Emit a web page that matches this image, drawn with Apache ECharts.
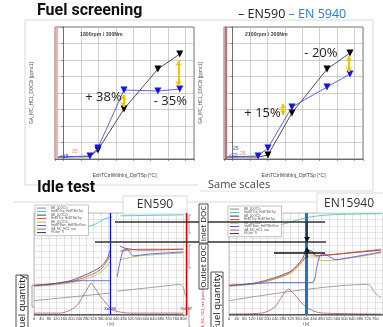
<!DOCTYPE html>
<html><head><meta charset="utf-8">
<script src="https://cdn.jsdelivr.net/npm/echarts@6/dist/echarts.min.js"></script>
<style>html,body{margin:0;padding:0;background:#fff}#c{width:383px;height:327px}</style>
</head><body><div id="c"></div>
<script>
// ---------- Fuel screening (top) ----------
const fsX1800 = [-0.33, 1.51, 1.97, 3.47, 5.42, 6.68];
const fsEN590_1800 = [0.12, 0.14, 0.55, 3.03, 5.45, 6.36];
const fsEN15940_1800 = [0.12, 0.18, 0.67, 4.18, 4.12, 4.24];
const fsX2100 = [-0.33, 1.46, 2.03, 3.41, 5.43, 6.75];
const fsEN590_2100 = [0.12, 0.12, 0.24, 2.79, 5.45, 6.42];
const fsEN15940_2100 = [0.12, 0.18, 0.67, 3.15, 4.36, 5.15];
const fsMark590 = [false, false, true, true, true, true];
const fsMark15940 = [false, true, true, true, true, true];
const fsArrows1800 = [[3.43, 3.15, 3.88], [6.60, 4.42, 5.94]];
const fsArrows2100 = [[2.90, 2.67, 3.33], [6.69, 5.27, 6.24]];
const fsLabels1800 = [['+ 38%', 2.29, 3.76], ['- 35%', 6.14, 3.52]];
const fsLabels2100 = [['+ 15%', 1.72, 2.79], ['- 20%', 5.08, 6.42]];

// ---------- Idle test (bottom) ----------
const idleNames = ['BB_LDOC1r', 'ImpBTTcp_HeBTBetTcp', 'BB_LDOC2r', 'HeBTTcp_HeBTBetTcp', 'BB_LDOC3r', 'ImpBTBam_HeBTBetTam', 'GA_MC_HC1_raw', 'FLGen_ft'];
const idleColors = ['#8a8a8a', '#3cbcbc', '#444444', '#e83a3a', '#b3b348', '#4646e6', '#b05a5a', '#333333'];

// EN590
const e590_grayT = [0, 408, 430, 446, 730, 784, 800, 811];
const e590_grayV = [11.2, 17.2, null, 18.7, 23.2, 23.9, 21.7, 15.0];
const e590_tealT = [0, 193, 311, 381, 419, 430, 462, 800];
const e590_tealV = [65.8, 67.3, 70.3, 75.5, 77.0, null, 77.8, 78.5];
const e590_blackT = [0, 177, 263, 354, 392, 408, 430, 462, 489, 569, 800];
const e590_blackV = [23.2, 26.2, 30.7, 37.4, 44.1, 50.9, null, 53.9, 52.4, 50.9, 51.6];
const e590_redT = [0, 177, 263, 354, 392, 408, 430, 462, 569, 800];
const e590_redV = [23.2, 25.4, 29.2, 35.2, 42.6, 47.1, null, 50.1, 51.6, 51.6];
const e590_oliveT = [0, 177, 263, 354, 408, 430, 462, 569, 800];
const e590_oliveV = [22.4, 24.7, 27.7, 32.9, 41.9, null, 43.4, 46.4, 48.6];
const e590_blueT = [0, 86, 177, 263, 408, 430, 446, 478, 499, 532, 623, 800];
const e590_blueV = [23.2, 23.9, 26.2, 26.9, 26.9, null, 29.9, 50.9, 51.6, 46.4, 47.9, 49.4];
const e590_hcT = [0, 140, 193, 231, 263, 290, 306, 328, 354, 392, 424, 516, 800];
const e590_hcV = [1.5, 1.5, 3.7, 7.5, 15.0, 21.7, 24.7, 20.9, 15.0, 8.2, 3.7, 1.5, 1.5];
const e590_fuelT = [0, 800];
const e590_fuelV = [0.4, 0.4];

// EN15940
const e159_grayT = [0, 708, 733, 754, 790];
const e159_grayV = [11.2, 23.9, 23.2, 18.0, 13.5];
const e159_tealT = [0, 277, 400, 518, 790];
const e159_tealV = [63.6, 71.1, 76.3, 78.5, 79.5];
const e159_blackT = [0, 144, 313, 379, 405, 431, 456, 518, 790];
const e159_blackV = [23.2, 25.4, 33.7, 43.4, 50.9, 50.1, 46.4, 47.1, 50.9];
const e159_redT = [0, 144, 236, 313, 379, 400, 426, 451, 518, 790];
const e159_redV = [23.2, 24.7, 28.4, 32.9, 41.9, 46.4, 49.4, 46.4, 47.1, 51.6];
const e159_oliveT = [0, 144, 313, 379, 400, 441, 482, 569, 790];
const e159_oliveV = [22.4, 24.7, 32.2, 41.1, 45.6, 46.4, 42.6, 43.4, 48.6];
const e159_blueT = [0, 144, 236, 431, 456, 472, 492, 554, 621, 790];
const e159_blueV = [23.2, 24.7, 25.4, 25.4, 37.4, 46.4, 47.9, 43.4, 44.9, 49.4];
const e159_hcT = [0, 169, 236, 277, 308, 338, 390, 441, 492, 790];
const e159_hcV = [0.7, 1.5, 6.0, 15.0, 20.2, 16.5, 7.5, 3.0, 1.5, 0.7];
const e159_fuelT = [0, 800];
const e159_fuelV = [0.4, 0.4];

const zip = (t, v) => t.map((x, i) => [x, v[i] === null ? '-' : v[i]]);
const tri = (xs, ys, marks) => xs.map((x, i) => ({ value: [x, ys[i]], symbol: marks[i] ? 'triangle' : 'none' }));

function fsSeries(gi, xs, y590, y159, arrows, labels, redColor) {
  return [
    { type: 'line', xAxisIndex: gi, yAxisIndex: gi, data: tri(xs, y590, fsMark590), symbol: 'triangle', symbolRotate: 180, symbolSize: 7,
      itemStyle: { color: '#000' }, lineStyle: { color: '#222', width: 0.8 }, z: 3, animation: false },
    { type: 'line', xAxisIndex: gi, yAxisIndex: gi, data: tri(xs, y159, fsMark15940), symbol: 'triangle', symbolRotate: 180, symbolSize: 7,
      itemStyle: { color: '#1414e6' }, lineStyle: { color: '#5050f0', width: 0.9 }, z: 4, animation: false,
      markLine: { silent: true, animation: false, symbol: ['arrow', 'arrow'], symbolSize: [5, 5], label: { show: false },
        lineStyle: { color: '#f5c400', width: 2, type: 'solid' },
        data: arrows.map(a => [{ coord: [a[0], a[1]] }, { coord: [a[0], a[2]] }]) },
      markPoint: { silent: true, animation: false, symbol: 'circle', symbolSize: 0,
        label: { show: true, formatter: '{b}', fontSize: 13, color: '#222', fontFamily: 'Open Sans', position: 'inside' },
        data: labels.map(l => ({ name: l[0], coord: [l[1], l[2]] })) } },
    { type: 'line', xAxisIndex: gi, yAxisIndex: gi, data: [], z: 2,
      markLine: { silent: true, animation: false, symbol: 'none', label: { show: false }, lineStyle: { color: redColor, width: 1.6, type: 'solid' }, data: [{ xAxis: -0.38 }] } }
  ];
}

function idleSeries(gi, sets, extra) {
  return sets.map((s, i) => {
    const o = { type: 'line', name: idleNames[i], xAxisIndex: gi, yAxisIndex: gi, data: zip(s[0], s[1]), symbol: 'none', smooth: 0.3,
      lineStyle: { color: idleColors[i], width: 0.8 }, itemStyle: { color: idleColors[i] }, animation: false, connectNulls: false };
    if (extra[i]) o.markLine = extra[i];
    return o;
  });
}

const fsXAxis = gi => ({ gridIndex: gi, type: 'value', min: -0.5, max: 7.5, splitNumber: 8,
  axisLabel: { show: false }, axisTick: { show: true, length: 2, lineStyle: { color: '#555', width: 0.6 } },
  axisLine: { lineStyle: { color: '#555', width: 0.8 } }, splitLine: { show: true, lineStyle: { color: '#b0b0b0', width: 0.6 } },
  name: 'ExhTCtrlWithInj_DpfTSp [°C]', nameLocation: 'middle', nameGap: 14, nameTextStyle: { fontSize: 5, color: '#444', fontFamily: 'Liberation Sans' } });
const fsYAxis = gi => ({ gridIndex: gi, type: 'value', min: 0, max: 8, interval: 1,
  axisLabel: { show: false }, axisTick: { show: true, length: 2, lineStyle: { color: '#555', width: 0.6 } },
  axisLine: { lineStyle: { color: '#555', width: 0.8 } }, splitLine: { show: true, lineStyle: { color: '#b0b0b0', width: 0.6 } },
  name: 'GA_MC_HC1_DOC2r [ppmc1]', nameLocation: 'middle', nameGap: 21, nameTextStyle: { fontSize: 4.5, color: '#555', fontFamily: 'Liberation Sans' } });
const idleXAxis = (gi, max) => ({ gridIndex: gi, type: 'value', min: 0, max: max, interval: 40,
  axisLabel: { fontSize: 4, color: '#333', margin: 2, showMaxLabel: false, fontFamily: 'Liberation Sans' },
  axisTick: { show: true, length: 1.5, lineStyle: { color: '#666', width: 0.5 } },
  axisLine: { lineStyle: { color: '#777', width: 0.6 } }, splitLine: { show: true, lineStyle: { color: '#c4c4c4', width: 0.5 } },
  name: 't [s]', nameLocation: 'middle', nameGap: 7, nameTextStyle: { fontSize: 4, color: '#333' } });
const idleYAxis = gi => ({ gridIndex: gi, type: 'value', min: 0, max: 80, interval: 5,
  axisLabel: { show: false }, axisTick: { show: false }, axisLine: { show: false },
  splitLine: { show: true, lineStyle: { color: '#cfcfcf', width: 0.5 } } });

const legendCommon = { orient: 'vertical', data: idleNames, icon: 'rect', itemWidth: 9, itemHeight: 1, itemGap: 0.3,
  textStyle: { fontSize: 3, lineHeight: 3.2, color: '#555', fontFamily: 'Liberation Sans' }, padding: [1.5, 3, 1.5, 2],
  backgroundColor: '#fff', borderColor: '#888', borderWidth: 0.5, selectedMode: false, z: 20 };

const series = [].concat(
  fsSeries(0, fsX1800, fsEN590_1800, fsEN15940_1800, fsArrows1800, fsLabels1800, '#f39a9a'),
  fsSeries(1, fsX2100, fsEN590_2100, fsEN15940_2100, fsArrows2100, fsLabels2100, '#e03a3a'),
  idleSeries(2, [[e590_grayT, e590_grayV], [e590_tealT, e590_tealV], [e590_blackT, e590_blackV], [e590_redT, e590_redV],
    [e590_oliveT, e590_oliveV], [e590_blueT, e590_blueV], [e590_hcT, e590_hcV], [e590_fuelT, e590_fuelV]],
    { 5: { silent: true, animation: false, symbol: 'none', lineStyle: { color: '#0000ff', width: 1.2, type: 'solid' },
          label: { show: true, position: 'start', formatter: 'Xa830', fontSize: 4, color: '#0000ff', distance: [ -10, -8 ] }, data: [{ xAxis: 408 }] },
      3: { silent: true, animation: false, symbol: 'none', lineStyle: { color: '#e00000', width: 1.4, type: 'solid' },
          label: { show: true, position: 'start', formatter: 'Xa817', fontSize: 4, color: '#e00000', distance: [ -10, -8 ] }, data: [{ xAxis: 816 }] } }),
  idleSeries(3, [[e159_grayT, e159_grayV], [e159_tealT, e159_tealV], [e159_blackT, e159_blackV], [e159_redT, e159_redV],
    [e159_oliveT, e159_oliveV], [e159_blueT, e159_blueV], [e159_hcT, e159_hcV], [e159_fuelT, e159_fuelV]],
    { 5: { silent: true, animation: false, symbol: 'none', lineStyle: { color: '#1f74c4', width: 3, type: 'solid' },
          label: { show: false }, data: [{ xAxis: 400 }] } })
);

const G = [];
// panel frames
G.push({ type: 'polyline', shape: { points: [[25, 185], [25, 20], [373, 20], [373, 191], [200, 191]] }, style: { stroke: '#cfcfcf', fill: null, lineWidth: 0.8 }, z: 0 });
G.push({ type: 'line', shape: { x1: 25, y1: 185, x2: 198, y2: 185 }, style: { stroke: '#cfcfcf', lineWidth: 0.8 }, z: 0 });
G.push({ type: 'line', shape: { x1: 13, y1: 202, x2: 317, y2: 202 }, style: { stroke: '#cfcfcf', lineWidth: 0.8 }, z: 0 });
// titles
G.push({ type: 'text', x: 37, y: 11, style: { text: 'Fuel screening', fontSize: 16, fontWeight: 'bold', fontFamily: 'Roboto', fill: '#111', verticalAlign: 'middle' }, z: 50 });
G.push({ type: 'text', x: 238, y: 14, style: { text: '{a|– EN590} {b|– EN 5940}', fontSize: 12.5, fontFamily: 'Open Sans', verticalAlign: 'middle',
  rich: { a: { fill: '#222', fontSize: 12.5, fontFamily: 'Open Sans' }, b: { fill: '#2a7dd1', fontSize: 12.5, fontFamily: 'Open Sans' } } }, z: 50 });
G.push({ type: 'text', x: 80, y: 35, style: { text: '1800rpm / 300Nm', fontSize: 5.2, fontWeight: 'bold', fontFamily: 'Liberation Sans', fill: '#444', verticalAlign: 'middle' }, z: 50 });
G.push({ type: 'text', x: 245, y: 35, style: { text: '2100rpm / 300Nm', fontSize: 5.2, fontWeight: 'bold', fontFamily: 'Liberation Sans', fill: '#444', verticalAlign: 'middle' }, z: 50 });
// tiny start labels
G.push({ type: 'text', x: 60, y: 157, style: { text: '<15', fontSize: 5, fill: '#3030e0', verticalAlign: 'middle', fontFamily: 'Liberation Sans' }, z: 50 });
G.push({ type: 'text', x: 72, y: 152, style: { text: '25', fontSize: 5, fill: '#f08080', verticalAlign: 'middle', fontFamily: 'Liberation Sans' }, z: 50 });
G.push({ type: 'text', x: 233, y: 149, style: { text: '25', fontSize: 5, fill: '#555', verticalAlign: 'middle', fontFamily: 'Liberation Sans' }, z: 50 });
G.push({ type: 'text', x: 229, y: 156, style: { text: '<22', fontSize: 5, fill: '#3030e0', verticalAlign: 'middle', fontFamily: 'Liberation Sans' }, z: 50 });
G.push({ type: 'text', x: 240, y: 154, style: { text: '25', fontSize: 5, fill: '#f08080', verticalAlign: 'middle', fontFamily: 'Liberation Sans' }, z: 50 });
G.push({ type: 'text', x: 208, y: 185, style: { text: 'Same scales', fontSize: 11, fontFamily: 'Open Sans', fill: '#444', verticalAlign: 'middle', backgroundColor: '#fff' }, z: 50 });
G.push({ type: 'text', x: 37, y: 188, style: { text: 'Idle test', fontSize: 16, fontWeight: 'bold', fontFamily: 'Roboto', fill: '#111', verticalAlign: 'middle' }, z: 50 });
// tabs
G.push({ type: 'rect', shape: { x: 123, y: 196, width: 64, height: 18 }, style: { fill: '#fff', stroke: '#cfcfcf', lineWidth: 0.8 }, z: 1 });
G.push({ type: 'text', x: 155, y: 205, style: { text: 'EN590', fontSize: 12, fontFamily: 'Open Sans', fill: '#333', align: 'center', verticalAlign: 'middle' }, z: 2 });
G.push({ type: 'rect', shape: { x: 317, y: 193, width: 70, height: 20 }, style: { fill: '#fff', stroke: '#cfcfcf', lineWidth: 0.8 }, z: 1 });
G.push({ type: 'text', x: 349, y: 204, style: { text: 'EN15940', fontSize: 12, fontFamily: 'Open Sans', fill: '#333', align: 'center', verticalAlign: 'middle' }, z: 2 });
// rotated boxed labels
function vbox(x, y, w, h, txt, fs) {
  G.push({ type: 'rect', shape: { x: x, y: y, width: w, height: h }, style: { fill: '#fff', stroke: '#222', lineWidth: 0.8 }, z: 60 });
  G.push({ type: 'text', x: x + w / 2, y: y + h / 2, rotation: Math.PI / 2, style: { text: txt, fontSize: fs, fontFamily: 'Open Sans', fill: '#111', align: 'center', verticalAlign: 'middle' }, z: 61 });
}
vbox(199, 204, 9, 39, 'Inlet DOC', 8);
vbox(199, 244, 9, 45, 'Outlet DOC', 8);
vbox(211, 272, 12, 60, 'Fuel quantity', 9.5);
vbox(16, 275, 12, 57, 'Fuel quantity', 9.5);
G.push({ type: 'text', x: 203, y: 309, rotation: Math.PI / 2, style: { text: 'GA_MC_HC1_raw [ppmc1]', fontSize: 3.5, fill: '#d03030', align: 'center', verticalAlign: 'middle' }, z: 50 });
// secondary axis brackets of the EN590 plot
[[215, 233], [245, 268], [308, 327]].forEach(r => {
  G.push({ type: 'polyline', shape: { points: [[191, r[0]], [189, r[0]], [189, r[1]], [191, r[1]]] }, style: { stroke: '#666', fill: null, lineWidth: 0.6 }, z: 5 });
});
G.push({ type: 'polyline', shape: { points: [[34, 285], [32, 285], [32, 307], [34, 307]] }, style: { stroke: '#666', fill: null, lineWidth: 0.6 }, z: 5 });
// comparison annotation lines
G.push({ type: 'line', shape: { x1: 115, y1: 222, x2: 325, y2: 222 }, style: { stroke: '#333', lineWidth: 1.3 }, z: 40 });
G.push({ type: 'line', shape: { x1: 95, y1: 242, x2: 326, y2: 242 }, style: { stroke: '#333', lineWidth: 1.3 }, z: 40 });
G.push({ type: 'line', shape: { x1: 274, y1: 253, x2: 325, y2: 253 }, style: { stroke: '#111', lineWidth: 1.3 }, z: 40 });
G.push({ type: 'line', shape: { x1: 307, y1: 222, x2: 307, y2: 238 }, style: { stroke: '#111', lineWidth: 1 }, z: 41 });
G.push({ type: 'polygon', shape: { points: [[304, 237], [310, 237], [307, 242]] }, style: { fill: '#111' }, z: 41 });
G.push({ type: 'line', shape: { x1: 307, y1: 251, x2: 307, y2: 258 }, style: { stroke: '#111', lineWidth: 1 }, z: 41 });
G.push({ type: 'polygon', shape: { points: [[304, 252], [310, 252], [307, 247]] }, style: { fill: '#111' }, z: 41 });

const option = {
  animation: false,
  backgroundColor: '#fff',
  grid: [
    { left: 55, top: 27, width: 139, height: 132, show: true, borderColor: '#555', borderWidth: 0.8, backgroundColor: '#fff' },
    { left: 224, top: 27, width: 139, height: 132, show: true, borderColor: '#555', borderWidth: 0.8, backgroundColor: '#fff' },
    { left: 34, top: 213, width: 153, height: 107, show: true, borderColor: '#999', borderWidth: 0.6 },
    { left: 229, top: 213, width: 156, height: 107, show: true, borderColor: '#999', borderWidth: 0.6 }
  ],
  xAxis: [fsXAxis(0), fsXAxis(1), idleXAxis(2, 820), idleXAxis(3, 800)],
  yAxis: [fsYAxis(0), fsYAxis(1), idleYAxis(2), idleYAxis(3)],
  legend: [
    Object.assign({ left: 35, top: 205 }, legendCommon),
    Object.assign({ left: 228, top: 206 }, legendCommon)
  ],
  graphic: G,
  series: series
};
const chart = echarts.init(document.getElementById('c'), null, { renderer: 'canvas' });
chart.setOption(option);
</script></body></html>
